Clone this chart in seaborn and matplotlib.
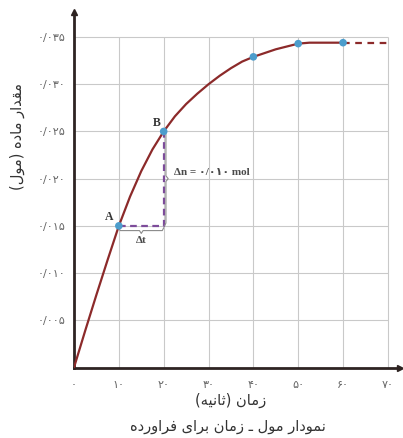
import numpy as np
import pandas as pd
import seaborn as sns
import matplotlib.pyplot as plt

# Data (time in s, amount in mol)
curve_t = [0, 2.5, 5, 7.5, 10, 12.5, 15, 17.5, 20, 22.5, 25, 27.5, 30,
           32.5, 35, 37.5, 40, 42.5, 45, 47.5, 50, 52.5, 55, 57.5, 60]
curve_n = [0, 0.0039, 0.0077, 0.0114, 0.015, 0.0181, 0.0208, 0.0231, 0.025,
           0.0266, 0.0279, 0.0290, 0.0300, 0.0309, 0.0317, 0.0324, 0.0329,
           0.0333, 0.0337, 0.0340, 0.0343, 0.0344, 0.0344, 0.0344, 0.0344]
tail_t = [60, 70]
tail_n = [0.0344, 0.0344]
point_t = [10, 20, 40, 50, 60]
point_n = [0.015, 0.025, 0.0329, 0.0343, 0.0344]
point_names = ["A", "B", "", "", ""]

x_ticks = [0, 10, 20, 30, 40, 50, 60, 70]
x_labels = ["۰", "۱۰", "۲۰", "۳۰", "۴۰", "۵۰", "۶۰", "۷۰"]
y_ticks = [0.005, 0.010, 0.015, 0.020, 0.025, 0.030, 0.035]
y_labels = ["۰/۰۰۵", "۰/۰۱۰", "۰/۰۱۵", "۰/۰۲۰", "۰/۰۲۵", "۰/۰۳۰", "۰/۰۳۵"]

y_title = "مقدار ماده (مول)"
x_title = "زمان (ثانیه)"
caption = "نمودار مول ـ زمان برای فراورده"
dn_label = "Δn = ۰/۰۱۰ mol"
dt_label = "Δt"

# matplotlib has no Arabic shaping, so pick presentation forms by hand
# (isolated, final, initial, medial)
FORMS = {
    "ا": (0xFE8D, 0xFE8E, None, None),
    "ب": (0xFE8F, 0xFE90, 0xFE91, 0xFE92),
    "ث": (0xFE99, 0xFE9A, 0xFE9B, 0xFE9C),
    "د": (0xFEA9, 0xFEAA, None, None),
    "ر": (0xFEAD, 0xFEAE, None, None),
    "ز": (0xFEAF, 0xFEB0, None, None),
    "ف": (0xFED1, 0xFED2, 0xFED3, 0xFED4),
    "ق": (0xFED5, 0xFED6, 0xFED7, 0xFED8),
    "ل": (0xFEDD, 0xFEDE, 0xFEDF, 0xFEE0),
    "م": (0xFEE1, 0xFEE2, 0xFEE3, 0xFEE4),
    "ن": (0xFEE5, 0xFEE6, 0xFEE7, 0xFEE8),
    "ه": (0xFEE9, 0xFEEA, 0xFEEB, 0xFEEC),
    "و": (0xFEED, 0xFEEE, None, None),
    "ی": (0xFEEF, 0xFEF0, 0xFEF3, 0xFEF4),
}
MIRROR = {"(": ")", ")": "("}


def shape(s):
    out = []
    for i, ch in enumerate(s):
        if ch not in FORMS:
            out.append(ch)
            continue
        iso, fin, ini, med = FORMS[ch]
        prev = s[i - 1] if i > 0 else ""
        nxt = s[i + 1] if i + 1 < len(s) else ""
        join_prev = prev in FORMS and FORMS[prev][2] is not None
        join_next = ini is not None and nxt in FORMS
        if join_prev and join_next:
            code = med
        elif join_prev:
            code = fin
        elif join_next:
            code = ini
        else:
            code = iso
        out.append(chr(code))
    return "".join(MIRROR.get(c, c) for c in reversed(out))


sns.set_theme(style="white")
plt.rcParams["font.family"] = ["DejaVu Sans"]

axis_col = "#2e2422"
grid_col = "#c9c9c9"
curve_col = "#8c2a2a"
dot_col = "#4c9dcc"
guide_col = "#7d4c9a"
text_col = "#4a4a4a"
serif = ["Liberation Serif", "DejaVu Sans"]

fig = plt.figure(figsize=(4.03, 4.38), dpi=100)
ax = fig.add_axes([74 / 403, 70.5 / 438, 326 / 403, 355.5 / 438])
ax.set_xlim(0, 72.7)
ax.set_ylim(0, 0.03765)

# grid box
ax.vlines(x_ticks[1:], 0, y_ticks[-1], color=grid_col, lw=0.8, zorder=0)
ax.hlines(y_ticks, 0, x_ticks[-1], color=grid_col, lw=0.8, zorder=0)

df = pd.DataFrame({"t": curve_t, "n": curve_n})
sns.lineplot(data=df, x="t", y="n", ax=ax, color=curve_col, lw=1.6,
             estimator=None, sort=False, zorder=3)
ax.plot(tail_t, tail_n, color=curve_col, lw=1.6, ls=(0, (3, 2.5)), zorder=3)

# delta guides between A and B
tA, nA = point_t[0], point_n[0]
tB, nB = point_t[1], point_n[1]
ax.plot([tA, tB, tB], [nA, nA, nB], color=guide_col, lw=1.6,
        ls=(0, (3, 2)), zorder=2)

# braces
bx = tB + 0.5
mid_n = (nA + nB) / 2
ax.plot([tB + 0.2, bx, bx, bx + 0.5, bx, bx, tB + 0.2],
        [nA, nA + 0.0003, mid_n - 0.0003, mid_n, mid_n + 0.0003, nB - 0.0003, nB],
        color="#8a8a8a", lw=0.8, zorder=2)
by = nA - 0.0005
mid_t = (tA + tB) / 2
ax.plot([tA, tA + 0.3, mid_t - 0.4, mid_t, mid_t + 0.4, tB - 0.3, tB],
        [nA - 0.0002, by, by, by - 0.0003, by, by, nA - 0.0002],
        color="#8a8a8a", lw=0.8, zorder=2)

sns.scatterplot(x=point_t, y=point_n, ax=ax, color=dot_col, s=30,
                edgecolor="none", zorder=4)

ax.text(tA - 2.2, nA + 0.0009, point_names[0], family=serif, weight="bold",
        fontsize=8.5, color="#333333", ha="center", va="center")
ax.text(tB - 1.5, nB + 0.0009, point_names[1], family=serif, weight="bold",
        fontsize=8.5, color="#333333", ha="center", va="center")
ax.text(tB + 2.2, mid_n + 0.0007, dn_label, family=serif, weight="bold",
        fontsize=8, color=text_col, ha="left", va="center")
ax.text(mid_t, nA - 0.0015, dt_label, family=serif, weight="bold",
        fontsize=8, color=text_col, ha="center", va="center")

# axes
for side in ["top", "right"]:
    ax.spines[side].set_visible(False)
for side in ["left", "bottom"]:
    ax.spines[side].set_color(axis_col)
    ax.spines[side].set_linewidth(2)
ax.plot(1, 0, ">", transform=ax.transAxes, clip_on=False, color=axis_col, ms=5)
ax.plot(0, 1, "^", transform=ax.transAxes, clip_on=False, color=axis_col, ms=5)

ax.set_xticks(x_ticks)
ax.set_xticklabels(x_labels)
ax.set_yticks(y_ticks)
ax.set_yticklabels(y_labels)
ax.tick_params(axis="both", direction="in", length=4, width=2,
               color=axis_col, labelcolor="#666666", labelsize=8)
ax.tick_params(axis="x", pad=9)
ax.tick_params(axis="y", pad=6)
ax.set_xlabel("")
ax.set_ylabel("")

fig.text(17 / 403, 1 - 136 / 438, shape(y_title), rotation=90, ha="center",
         va="center", fontsize=10.5, color="#333333")
fig.text(231 / 403, 1 - 400 / 438, shape(x_title), ha="center", va="center",
         fontsize=10.5, color="#333333")
fig.text(228 / 403, 1 - 427 / 438, shape(caption), ha="center", va="center",
         fontsize=10.5, color="#333333")

fig.savefig("out.png", dpi=100)
